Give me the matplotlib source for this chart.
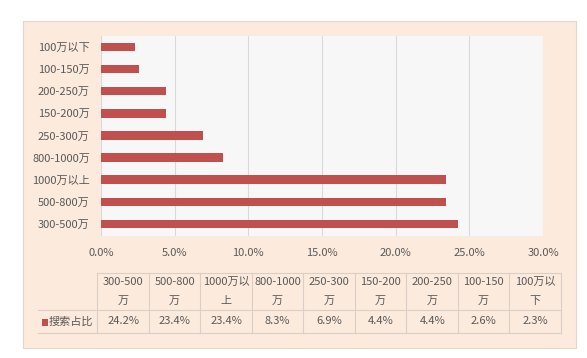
import matplotlib.pyplot as plt
from matplotlib.patches import Rectangle

plt.rcParams['font.family'] = ['Noto Sans CJK SC', 'DejaVu Sans']

# table order (bars are drawn bottom -> top in this order)
categories = ["300-500万", "500-800万", "1000万以上", "800-1000万", "250-300万",
              "150-200万", "200-250万", "100-150万", "100万以下"]
share = [24.2, 23.4, 23.4, 8.3, 6.9, 4.4, 4.4, 2.6, 2.3]
series_name = "搜索占比"
xticks = [0, 5, 10, 15, 20, 25, 30]

W, H = 587, 358
bar_color = "#C0504D"
panel_color = "#FCEADD"
text_color = "#595959"
line_color = "#D9CFC8"
fs = 8

fig = plt.figure(figsize=(W / 100, H / 100), dpi=100)
fig.patch.set_facecolor("white")


def fx(px):
    return px / W


def fy(py):
    return 1 - py / H


# outer peach panel
fig.patches.append(Rectangle((fx(23), fy(348)), fx(576) - fx(23), fy(21) - fy(348),
                             transform=fig.transFigure, facecolor=panel_color,
                             edgecolor="#E3D6CD", lw=0.8, zorder=-5))

# bar chart
ax = fig.add_axes([fx(101), fy(236), fx(543) - fx(101), fy(36) - fy(236)])
ax.set_facecolor("#F7F7F7")
ypos = list(range(len(categories)))
ax.barh(ypos, share, height=0.38, color=bar_color, zorder=3)
ax.set_xlim(0, 30)
ax.set_ylim(-0.55, len(categories) - 0.5)
ax.set_yticks(ypos)
ax.set_yticklabels(categories, fontsize=fs, color=text_color)
ax.set_xticks(xticks)
ax.set_xticklabels(["%.1f%%" % t for t in xticks], fontsize=fs, color=text_color)
ax.tick_params(length=0)
ax.tick_params(axis="y", pad=8)
ax.tick_params(axis="x", pad=9)
ax.grid(axis="x", color="#D9D9D9", lw=0.8, zorder=0)
for s in ax.spines.values():
    s.set_visible(False)

# data table below
tx0, tx1 = 97.3, 561
col_w = (tx1 - tx0) / len(categories)
y_top, y_mid, y_bot = 273, 310, 333
lkw = dict(color=line_color, lw=0.8, transform=fig.transFigure)

fig.add_artist(plt.Line2D([fx(tx0), fx(tx1)], [fy(y_top), fy(y_top)], **lkw))
fig.add_artist(plt.Line2D([fx(38), fx(tx1)], [fy(y_mid), fy(y_mid)], **lkw))
fig.add_artist(plt.Line2D([fx(38), fx(tx1)], [fy(y_bot), fy(y_bot)], **lkw))
for i in range(len(categories) + 1):
    x = tx0 + i * col_w
    fig.add_artist(plt.Line2D([fx(x), fx(x)], [fy(y_top), fy(y_bot)], **lkw))

for i, (cat, v) in enumerate(zip(categories, share)):
    cx = fx(tx0 + (i + 0.5) * col_w)
    fig.text(cx, fy(282), cat[:-1], ha="center", va="center", fontsize=fs, color=text_color)
    fig.text(cx, fy(301), cat[-1], ha="center", va="center", fontsize=fs, color=text_color)
    fig.text(cx, fy(321.5), "%.1f%%" % v, ha="center", va="center", fontsize=fs, color=text_color)

fig.patches.append(Rectangle((fx(42), fy(325.5)), fx(6), fy(0) - fy(7),
                             transform=fig.transFigure, facecolor=bar_color, lw=0))
fig.text(fx(49), fy(322), series_name, ha="left", va="center", fontsize=fs, color=text_color)

fig.savefig("out.png", dpi=100, facecolor=fig.get_facecolor())
